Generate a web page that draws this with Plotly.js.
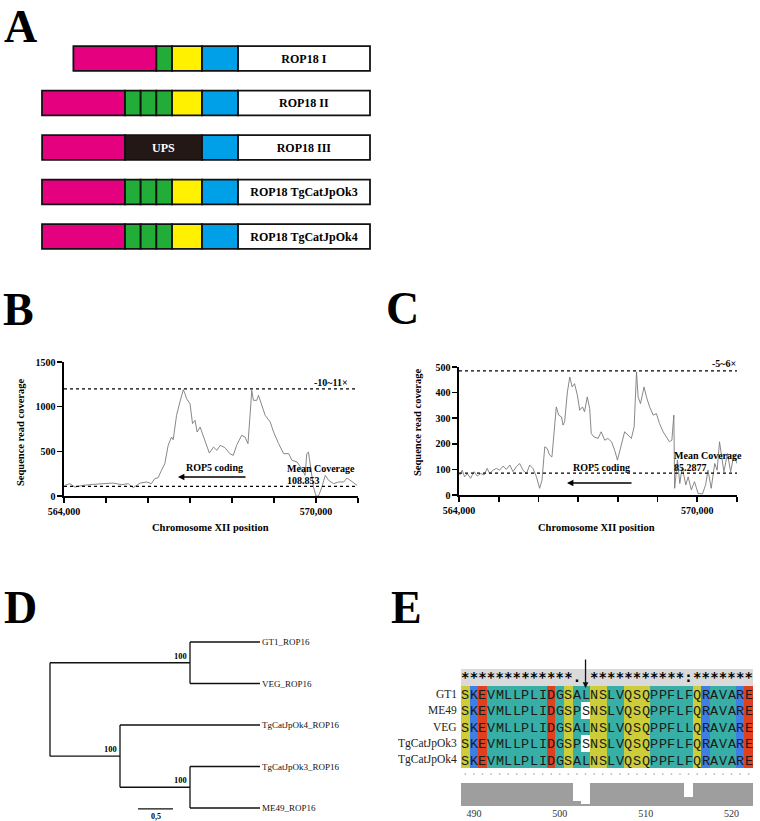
<!DOCTYPE html>
<html>
<head>
<meta charset="utf-8">
<script src="https://cdn.plot.ly/plotly-3.0.1.min.js"></script>
<style>html,body{margin:0;padding:0;background:#fff;}#chart{width:760px;height:821px;}</style>
</head>
<body>
<div id="chart"></div>
<script>
// ================= DATA =================
// Panel A : ROP18 domain architecture (segment lengths, arbitrary units)
const constructs = ["ROP18 I", "ROP18 II", "ROP18 III", "ROP18 TgCatJpOk3", "ROP18 TgCatJpOk4"];
const aSegments = [
  ["N", "R", "Y", "B", "T"],
  ["N", "R", "R", "R", "Y", "B", "T"],
  ["N", "U", "B", "T"],
  ["N", "R", "R", "R", "Y", "B", "T"],
  ["N", "R", "R", "R", "Y", "B", "T"]
];
const segKeys    = ["N", "R", "Y", "B", "U", "T"];
const segLengths = [83, 15.7, 30, 36, 77, 132];
const segColors  = ["#E4007F", "#22AC38", "#FFF100", "#00A0E9", "#231815", "#FFFFFF"];

// Panel B : sequence read coverage (strain 1)
const posB = [564020,564140,564260,564450,564690,564930,565170,565370,565530,565650,565810,565970,566080,566160,566240,566320,566400,566480,566560,566600,566680,566760,566840,566880,566920,567000,567060,567120,567170,567240,567320,567400,567460,567560,567640,567720,567830,567950,568030,568110,568230,568310,568380,568430,568470,568510,568590,568630,568710,568790,568910,568990,569110,569230,569350,569430,569550,569660,569740,569780,569820,569860,569940,570000,570060,570140,570220,570300,570420,570540,570660,570740,570860,570980];
const covB = [119,138,100,119,130,138,145,127,138,93,145,157,138,194,205,287,362,567,660,630,903,1052,1190,1145,1089,1033,810,847,716,772,660,548,481,548,511,567,541,474,455,567,679,660,586,903,1183,1071,1071,1127,1015,903,828,716,586,474,474,399,381,306,231,474,492,343,100,0,0,100,231,175,138,157,157,201,157,119];
const meanB = 108.853;
const foldB = 1200;

// Panel C : sequence read coverage (strain 2)
const posC = [564020,564080,564140,564210,564290,564380,564460,564550,564630,564710,564770,564860,564940,565020,565110,565190,565280,565360,565440,565530,565610,565700,565780,565860,565950,566030,566090,566160,566220,566280,566340,566390,566450,566510,566580,566620,566660,566730,566790,566850,566910,566980,567040,567110,567160,567230,567290,567330,567400,567500,567580,567670,567750,567840,567920,567990,568070,568170,568260,568340,568410,568470,568510,568570,568660,568720,568800,568890,568970,569050,569140,569220,569300,569360,569410,569430,569500,569560,569620,569710,569770,569850,569930,570020,570130,570210,570270,570350,570440,570500,570560,570670,570760,570840,570920,571000];
const covC = [78,97,71,84,65,91,74,84,78,104,84,97,104,97,113,100,117,91,110,123,97,84,117,104,71,26,58,188,182,156,149,253,344,312,305,273,286,403,461,422,435,390,331,344,325,383,338,240,227,221,247,214,221,208,175,136,182,247,234,221,266,481,383,357,422,383,344,312,318,279,247,227,208,214,312,26,136,45,110,39,71,20,52,6,4,40,97,26,123,97,208,91,162,91,156,123];
const meanC = 85.2877;
const foldC = 485;

const xTickVals = [564000,565000,566000,567000,568000,569000,570000,571000];
const xTickText = ["564,000","","","","","","570,000",""];

// Panel D : ROP16 tree (Newick, branch lengths + bootstrap)
const newick = "((GT1_ROP16:1,VEG_ROP16:1)100:2,(TgCatJpOk4_ROP16:2,(TgCatJpOk3_ROP16:1,ME49_ROP16:1)100:1)100:1);";
const scaleBarLength = 0.5;

// Panel E : ROP16 alignment
const seqNames = ["GT1", "ME49", "VEG", "TgCatJpOk3", "TgCatJpOk4"];
const seqs = [
  "SKEVMLLPLIDGSALNSLVQSQPPFLFQRAVARE",
  "SKEVMLLPLIDGSPSNSLVQSQPPFLFQRAVARE",
  "SKEVMLLPLIDGSALNSLVQSQPPFLLQRAVARE",
  "SKEVMLLPLIDGSPSNSLVQSQPPFLFQRAVARE",
  "SKEVMLLPLIDGSALNSLVQSQPPFLFQRAVARE"
];
const conservation = "*************. ***********:*******";
const quality = [1,1,1,1,1,1,1,1,1,1,1,1,1,0.22,0.1,1,1,1,1,1,1,1,1,1,1,1,0.41,1,1,1,1,1,1,1];
const firstResidue = 489;
const residueTicks = [490, 500, 510, 520];

// ================= BUILD =================
const W = 760, H = 821;
const X = p => p / W;
const Y = p => 1 - p / H;
const SERIF = '"Liberation Serif", "Times New Roman", serif';
const MONO = '"Liberation Mono", "Courier New", monospace';

const traces = [];
const shapes = [];
const annotations = [];

// ---- Panel A ----
const totals = aSegments.map(s => s.reduce((t, k) => t + segLengths[segKeys.indexOf(k)], 0));
const maxTotal = Math.max(...totals);
const bx = [], by = [], bbase = [], bcol = [], btext = [], btcol = [];
aSegments.forEach((segs, i) => {
  let start = maxTotal - totals[i];
  segs.forEach(k => {
    const j = segKeys.indexOf(k);
    by.push(i); bx.push(segLengths[j]); bbase.push(start); bcol.push(segColors[j]);
    btext.push(k === "T" ? "<b>" + constructs[i] + "</b>" : (k === "U" ? "<b>UPS</b>" : ""));
    btcol.push(k === "U" ? "#ffffff" : "#000000");
    start += segLengths[j];
  });
});
traces.push({
  type: "bar", orientation: "h", x: bx, y: by, base: bbase, width: 0.56,
  marker: {color: bcol, line: {color: "#111", width: 1.8}},
  text: btext, textposition: "inside", insidetextanchor: "middle", textangle: 0,
  constraintext: "none", textfont: {family: SERIF, size: 12, color: btcol},
  xaxis: "x", yaxis: "y", hoverinfo: "skip"
});

// ---- Panels B & C ----
traces.push({type: "scatter", mode: "lines", x: posB, y: covB, line: {color: "#7a7a7a", width: 0.9},
  xaxis: "x2", yaxis: "y2", hoverinfo: "skip"});
traces.push({type: "scatter", mode: "lines", x: posC, y: covC, line: {color: "#7a7a7a", width: 0.9},
  xaxis: "x3", yaxis: "y3", hoverinfo: "skip"});

[[foldB, "x2", "y2"], [meanB, "x2", "y2"], [foldC, "x3", "y3"], [meanC, "x3", "y3"]].forEach(([v, xr, yr]) => {
  shapes.push({type: "line", xref: xr, yref: yr, x0: 564000, x1: 571000, y0: v, y1: v,
    line: {color: "#000", width: 1.2, dash: "dot"}});
});

const axBase = {
  showline: true, linecolor: "#000", linewidth: 1.6, ticks: "outside", ticklen: 5, tickwidth: 1.6,
  tickcolor: "#000", showgrid: false, zeroline: false, fixedrange: true,
  tickfont: {family: SERIF, size: 10, color: "#000"}
};
const bold = a => a.map(t => t === "" ? "" : "<b>" + t + "</b>");

// ---- Panel D : tree ----
function parseNewick(s) {
  let i = 0;
  function node() {
    const n = {children: [], name: "", len: 0};
    if (s[i] === "(") {
      i++;
      n.children.push(node());
      while (s[i] === ",") { i++; n.children.push(node()); }
      i++;
    }
    let name = "";
    while (i < s.length && !":,);".includes(s[i])) name += s[i++];
    n.name = name;
    if (s[i] === ":") {
      i++;
      let l = "";
      while (i < s.length && !",);".includes(s[i])) l += s[i++];
      n.len = parseFloat(l);
    }
    return n;
  }
  return node();
}
const root = parseNewick(newick);
let leafCounter = 0;
function layoutTree(n, x) {
  n.x = x;
  if (n.children.length === 0) { n.y = leafCounter++; return; }
  n.children.forEach(c => layoutTree(c, x + c.len));
  n.y = (n.children[0].y + n.children[n.children.length - 1].y) / 2;
}
layoutTree(root, 0);
const tx = [], ty = [];
function drawTree(n) {
  if (n.children.length === 0) {
    annotations.push({xref: "x4", yref: "y4", x: n.x, y: n.y, text: n.name, showarrow: false,
      xanchor: "left", xshift: 0, font: {family: SERIF, size: 9, color: "#111"}});
    return;
  }
  const first = n.children[0], last = n.children[n.children.length - 1];
  tx.push(n.x, n.x, null); ty.push(first.y, last.y, null);
  n.children.forEach(c => { tx.push(n.x, c.x, null); ty.push(c.y, c.y, null); drawTree(c); });
  if (n.name) {
    annotations.push({xref: "x4", yref: "y4", x: n.x, y: n.y, text: "<b>" + n.name + "</b>", showarrow: false,
      xanchor: "right", yanchor: "bottom", xshift: -1, yshift: 0, font: {family: SERIF, size: 8.5, color: "#000000"}});
  }
}
drawTree(root);
traces.push({type: "scatter", mode: "lines", x: tx, y: ty, line: {color: "#111", width: 1.3},
  xaxis: "x4", yaxis: "y4", hoverinfo: "skip"});
const sbX0 = (138 - 50) / 70;
shapes.push({type: "line", xref: "x4", yref: "y4", x0: sbX0, x1: sbX0 + scaleBarLength, y0: 4.02, y1: 4.02,
  line: {color: "#111", width: 1.2}});
annotations.push({xref: "x4", yref: "y4", x: sbX0 + scaleBarLength / 2, y: 4.02, yanchor: "top", yshift: -1,
  text: "<b>" + String(scaleBarLength).replace(".", ",") + "</b>", showarrow: false,
  font: {family: SERIF, size: 8, color: "#000000"}});

// ---- Panel E : alignment ----
const nRes = seqs[0].length;
const resNums = seqs[0].split("").map((_, j) => firstResidue + j);
const cls = r => "STNQ".includes(r) ? 1 : ("KRH".includes(r) ? 2 : ("DE".includes(r) ? 3 : 4));
const colMajor = resNums.map((_, j) => {
  const cnt = {};
  seqs.forEach(s => { const c = cls(s[j]); cnt[c] = (cnt[c] || 0) + 1; });
  return +Object.keys(cnt).sort((a, b) => cnt[b] - cnt[a])[0];
});
const z = [resNums.map(() => 5)];
const txt = [resNums.map(() => "")];
seqs.forEach(s => {
  z.push(s.split("").map((r, j) => cls(r) === colMajor[j] ? cls(r) : 0));
  txt.push(s.split(""));
});
traces.push({
  type: "heatmap", x: resNums, y: [0, 1, 2, 3, 4, 5], z: z, text: txt, texttemplate: "%{text}",
  textfont: {family: MONO, size: 13.5, color: "#1a1a1a"},
  colorscale: [[0, "#ffffff"], [0.1, "#ffffff"], [0.1, "#CDCD3A"], [0.3, "#CDCD3A"], [0.3, "#3F7FE3"], [0.5, "#3F7FE3"],
               [0.5, "#E0401E"], [0.7, "#E0401E"], [0.7, "#38AFA6"], [0.9, "#38AFA6"], [0.9, "#DADADA"], [1, "#DADADA"]],
  zmin: 0, zmax: 5, showscale: false, xgap: 0, ygap: 0, xaxis: "x5", yaxis: "y5", hoverinfo: "skip"
});
traces.push({type: "scatter", mode: "text", x: resNums, y: resNums.map(() => 0.08), text: conservation.split(""),
  textfont: {family: '"DejaVu Sans Mono", monospace', size: 14, color: "#000", weight: "bold"},
  xaxis: "x5", yaxis: "y5", hoverinfo: "skip", cliponaxis: false});
seqNames.forEach((n, i) => annotations.push({xref: "paper", yref: "y5", x: X(459), y: i + 1, xanchor: "right",
  text: n, showarrow: false, font: {family: SERIF, size: 11.5, color: "#222"}}));
traces.push({type: "bar", x: resNums, y: quality, width: 1, marker: {color: "#9E9E9E", line: {width: 0}},
  xaxis: "x6", yaxis: "y6", hoverinfo: "skip"});
traces.push({type: "scatter", mode: "markers", x: resNums, y: resNums.map(() => 1.39),
  marker: {size: 1.8, color: "#b5b5b5"}, xaxis: "x6", yaxis: "y6", hoverinfo: "skip"});
annotations.push({xref: "x5", yref: "paper", x: firstResidue + 14, y: Y(688), ax: 0, ay: -30, text: "",
  showarrow: true, arrowhead: 2, arrowsize: 0.9, arrowwidth: 1.3, arrowcolor: "#111"});

// ---- Text annotations ----
const letter = (t, x, y) => annotations.push({xref: "paper", yref: "paper", x: X(x), y: Y(y), text: "<b>" + t + "</b>",
  showarrow: false, xanchor: "center", yanchor: "middle", font: {family: SERIF, size: 46, color: "#000"}});
letter("A", 20, 26); letter("B", 18, 309); letter("C", 402, 308); letter("D", 20, 607); letter("E", 406, 607);

const txtAnn = (t, x, y, xa, size, extra) => annotations.push(Object.assign({xref: "paper", yref: "paper",
  x: X(x), y: Y(y), text: "<b>" + t + "</b>", showarrow: false, xanchor: xa, yanchor: "middle",
  font: {family: SERIF, size: size, color: "#000"}}, extra || {}));
// B
txtAnn("Sequence read coverage", 20, 433, "center", 10.5, {textangle: -90});
txtAnn("Chromosome XII position", 210, 527, "center", 10.5);
txtAnn("-10~11×", 350, 382, "right", 10);
txtAnn("Mean Coverage", 285, 468, "left", 10);
txtAnn(String(meanB), 285, 480, "left", 10);
txtAnn("ROP5 coding", 214, 467, "center", 10);
annotations.push({xref: "paper", yref: "paper", x: X(178), y: Y(477), ax: 69, ay: 0, text: "", showarrow: true,
  arrowhead: 2, arrowsize: 0.8, arrowwidth: 1.6, arrowcolor: "#000"});
// C
txtAnn("Sequence read coverage", 417, 423, "center", 10.5, {textangle: -90});
txtAnn("Chromosome XII position", 596, 527, "center", 10.5);
txtAnn("-5~6×", 738, 364, "right", 10);
txtAnn("Mean Coverage", 672, 455, "left", 10);
txtAnn(String(meanC), 672, 467, "left", 10);
txtAnn("ROP5 coding", 601, 467, "center", 10);
annotations.push({xref: "paper", yref: "paper", x: X(567), y: Y(483), ax: 66, ay: 0, text: "", showarrow: true,
  arrowhead: 2, arrowsize: 0.8, arrowwidth: 1.6, arrowcolor: "#000"});

const hidden = {visible: false, fixedrange: true};
const layout = {
  width: W, height: H, margin: {l: 0, r: 0, t: 0, b: 0}, paper_bgcolor: "#fff", plot_bgcolor: "rgba(0,0,0,0)",
  showlegend: false, hovermode: false, barmode: "overlay", bargap: 0,
  // A
  xaxis: Object.assign({}, hidden, {domain: [X(38), X(374)], range: [-4, maxTotal + 4], anchor: "y"}),
  yaxis: Object.assign({}, hidden, {domain: [Y(258.75), Y(36.25)], range: [4.5, -0.5], anchor: "x"}),
  // B
  xaxis2: Object.assign({}, axBase, {domain: [X(64), X(358)], range: [564000, 571000], anchor: "y2",
    tickvals: xTickVals, ticktext: bold(xTickText)}),
  yaxis2: Object.assign({}, axBase, {domain: [Y(496), Y(362)], range: [0, 1500], anchor: "x2",
    tickvals: [0, 500, 1000, 1500], ticktext: bold(["0", "500", "1000", "1500"])}),
  // C
  xaxis3: Object.assign({}, axBase, {domain: [X(459), X(737)], range: [564000, 571000], anchor: "y3",
    tickvals: xTickVals, ticktext: bold(xTickText)}),
  yaxis3: Object.assign({}, axBase, {domain: [Y(495), Y(367)], range: [0, 500], anchor: "x3",
    tickvals: [0, 100, 200, 300, 400, 500], ticktext: bold(["0", "100", "200", "300", "400", "500"])}),
  // D
  xaxis4: Object.assign({}, hidden, {domain: [X(45), X(265)], range: [-5 / 70, 3 + 5 / 70], anchor: "y4"}),
  yaxis4: Object.assign({}, hidden, {domain: [Y(820), Y(630)], range: [4.289, -0.289], anchor: "x4"}),
  // E
  xaxis5: Object.assign({}, hidden, {domain: [X(461), X(753)], range: [firstResidue - 0.5, firstResidue + nRes - 0.5], anchor: "y5"}),
  yaxis5: Object.assign({}, hidden, {domain: [Y(768), Y(669)], range: [5.5, -0.5], anchor: "x5"}),
  xaxis6: {domain: [X(461), X(753)], range: [firstResidue - 0.5, firstResidue + nRes - 0.5], anchor: "y6",
    showline: false, showgrid: false, zeroline: false, ticks: "", tickvals: residueTicks, fixedrange: true,
    tickfont: {family: SERIF, size: 10, color: "#333"}},
  yaxis6: Object.assign({}, hidden, {domain: [Y(806), Y(770)], range: [0, 36 / 23], anchor: "x6"}),
  shapes: shapes, annotations: annotations
};

Plotly.newPlot("chart", traces, layout, {staticPlot: true, displayModeBar: false});
</script>
</body>
</html>
